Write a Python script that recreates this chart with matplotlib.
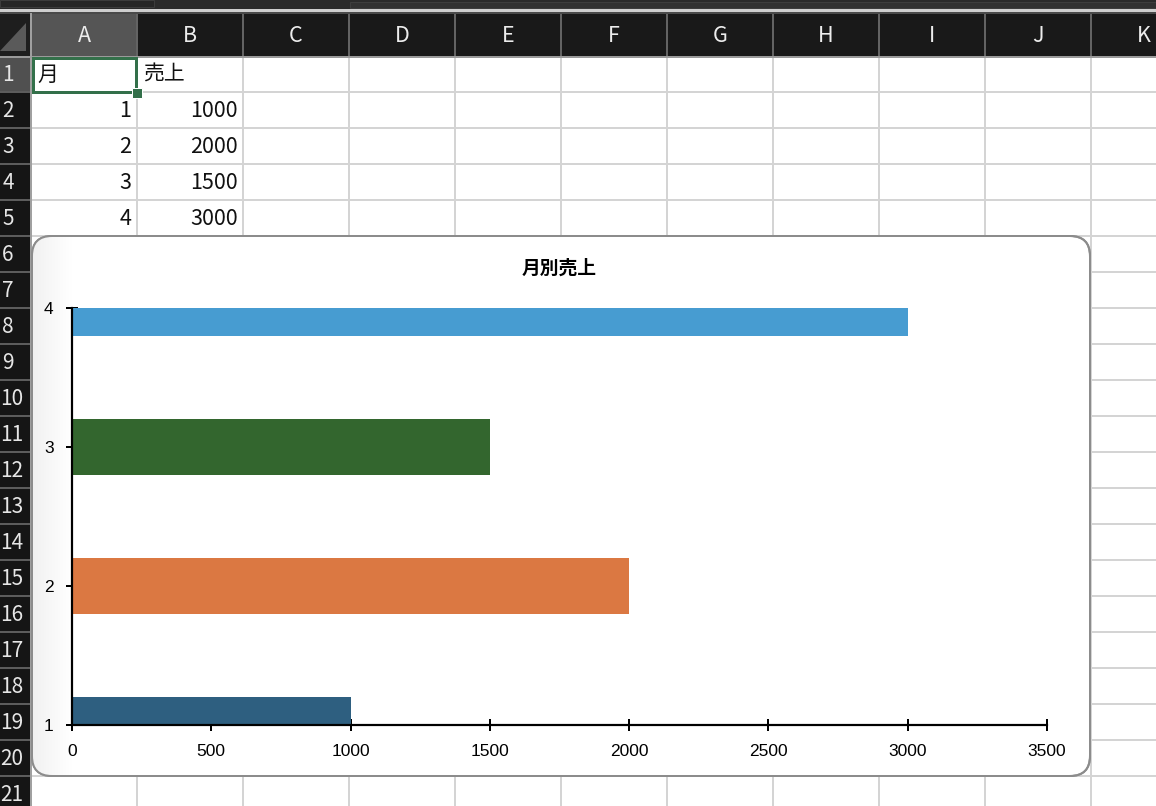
import matplotlib
matplotlib.use("Agg")
import matplotlib.pyplot as plt
import numpy as np
from matplotlib.patches import Rectangle, FancyBboxPatch, Polygon

# ---- data ----
months = [1, 2, 3, 4]
sales = [1000, 2000, 1500, 3000]
bar_colors = ["#2E5F80", "#DB7842", "#33662E", "#479CD1"]
header_month = "月"
header_sales = "売上"
chart_title = "月別売上"
col_letters = ["A", "B", "C", "D", "E", "F", "G", "H", "I", "J", "K"]
row_numbers = list(range(1, 22))
x_ticks = [0, 500, 1000, 1500, 2000, 2500, 3000, 3500]
y_ticks = [1, 2, 3, 4]

W, H = 1156, 806
DPI = 100
PX = 72.0 / DPI  # points per pixel

SHEET_FONT = ["Noto Sans CJK JP", "DejaVu Sans"]
CHART_FONT = ["Liberation Sans", "DejaVu Sans"]

fig = plt.figure(figsize=(W / DPI, H / DPI), dpi=DPI, facecolor="white")
bg = fig.add_axes([0, 0, 1, 1])
bg.set_xlim(0, W)
bg.set_ylim(H, 0)
bg.axis("off")

COL0 = 31
COLW = 106
ROW0 = 56
ROWH = 36
HEAD_TOP = 14

grid_c = "#d4d4d4"
# grid lines
for k in range(1, len(col_letters)):
    x = COL0 + COLW * k
    bg.plot([x, x], [ROW0, H], color=grid_c, lw=2 * PX, zorder=1)
for k in range(1, len(row_numbers) + 1):
    y = ROW0 + ROWH * k
    bg.plot([COL0, W], [y, y], color=grid_c, lw=2 * PX, zorder=1)

# row header
bg.add_patch(Rectangle((0, ROW0), 30, H - ROW0, facecolor="#151515", edgecolor="none", zorder=2))
bg.add_patch(Rectangle((0, ROW0), 30, ROWH, facecolor="#505050", edgecolor="none", zorder=2))
for k in range(1, len(row_numbers) + 1):
    y = ROW0 + ROWH * k
    bg.plot([0, 30], [y, y], color="#5c5c5c", lw=2 * PX, zorder=3)
bg.plot([30.5, 30.5], [ROW0, H], color="#a0a0a0", lw=2 * PX, zorder=3)
for i, r in enumerate(row_numbers):
    yc = ROW0 + ROWH * i + ROWH / 2 + 1
    xc = 8 if r < 10 else 12
    bg.text(xc, yc, str(r), ha="center", va="center", color="#e6e6e6",
            fontsize=15, family=SHEET_FONT, zorder=4)

# column header
bg.add_patch(Rectangle((0, HEAD_TOP), W, ROW0 - HEAD_TOP, facecolor="#191919", edgecolor="none", zorder=2))
bg.add_patch(Rectangle((COL0 + 1, HEAD_TOP), COLW - 1, ROW0 - HEAD_TOP, facecolor="#555555", edgecolor="none", zorder=2))
for k in range(1, len(col_letters)):
    x = COL0 + COLW * k
    bg.plot([x, x], [HEAD_TOP, ROW0], color="#636363", lw=2 * PX, zorder=3)
bg.plot([0, W], [ROW0 + 0.5, ROW0 + 0.5], color="#9a9a9a", lw=2 * PX, zorder=3)
for k, c in enumerate(col_letters):
    xc = COL0 + COLW * k + COLW / 2
    bg.text(xc, 36, c, ha="center", va="center", color="#ececec",
            fontsize=15.5, family=SHEET_FONT, zorder=4)

# corner cell
bg.add_patch(Rectangle((0, HEAD_TOP), 30, ROW0 - HEAD_TOP, facecolor="#1e1e1e", edgecolor="none", zorder=3))
bg.add_patch(Polygon([[26, 23], [26, 51], [0, 51]], closed=True, facecolor="#5a5a5a", edgecolor="none", zorder=4))
bg.plot([30.5, 30.5], [HEAD_TOP, ROW0], color="#a0a0a0", lw=2 * PX, zorder=4)

# top bar
bg.add_patch(Rectangle((0, 0), W, 9, facecolor="#2b2b2b", edgecolor="none", zorder=2))
bg.add_patch(Rectangle((0, 0), 154, 7, facecolor="#262626", edgecolor="#3c3c3c", lw=1 * PX, zorder=3))
bg.add_patch(Rectangle((350, 2), W - 350, 6, facecolor="#323232", edgecolor="#3e3e3e", lw=1 * PX, zorder=3))
bg.add_patch(Rectangle((0, 9), W, 3, facecolor="#cfcfcf", edgecolor="none", zorder=3))
bg.add_patch(Rectangle((0, 12), W, 2, facecolor="#4a4a4a", edgecolor="none", zorder=3))

# cell contents
bg.text(COL0 + 6, ROW0 + ROWH / 2 + 1, header_month, ha="left", va="center",
        fontsize=15, family=SHEET_FONT, color="#111111", zorder=5)
bg.text(COL0 + COLW + 6, ROW0 + ROWH / 2 + 1, header_sales, ha="left", va="center",
        fontsize=15, family=SHEET_FONT, color="#111111", zorder=5)
for i, (m, s) in enumerate(zip(months, sales)):
    yc = ROW0 + ROWH * (i + 1) + ROWH / 2 + 1
    bg.text(COL0 + COLW - 6, yc, str(m), ha="right", va="center",
            fontsize=15.5, family=SHEET_FONT, color="#111111", zorder=5)
    bg.text(COL0 + 2 * COLW - 5, yc, str(s), ha="right", va="center",
            fontsize=15.5, family=SHEET_FONT, color="#111111", zorder=5)

# selection box on A1
sel_c = "#33704a"
bg.add_patch(Rectangle((COL0 + 1.5, ROW0 + 1.5), COLW - 3, ROWH - 1.5, facecolor="none",
                       edgecolor=sel_c, lw=3 * PX, zorder=6))
bg.add_patch(Rectangle((132, 88), 10, 10, facecolor=sel_c, edgecolor="white", lw=1 * PX, zorder=7))

# chart panel
cx0, cy0, cx1, cy1 = 32, 236, 1090, 776
panel = FancyBboxPatch((cx0, cy0), cx1 - cx0, cy1 - cy0,
                       boxstyle="round,pad=0,rounding_size=20",
                       facecolor="white", edgecolor="#8c8c8c", lw=2 * PX, zorder=8)
bg.add_patch(panel)
grad = np.linspace(0.945, 1.0, 64).reshape(1, -1)
img = bg.imshow(np.dstack([grad, grad, grad]), extent=(cx0, cx0 + 40, cy1, cy0),
                aspect="auto", zorder=8.5, interpolation="bilinear")
img.set_clip_path(panel)
bg.add_patch(FancyBboxPatch((cx0, cy0), cx1 - cx0, cy1 - cy0,
                            boxstyle="round,pad=0,rounding_size=20",
                            facecolor="none", edgecolor="#8c8c8c", lw=2 * PX, zorder=9))
bg.set_xlim(0, W)
bg.set_ylim(H, 0)

# chart axes
ax_l, ax_r, ax_t, ax_b = 72, 1047, 308, 725
ax = fig.add_axes([ax_l / W, 1 - ax_b / H, (ax_r - ax_l) / W, (ax_b - ax_t) / H])
ax.set_zorder(10)
ax.patch.set_alpha(0)
ax.barh(months, sales, height=0.4, color=bar_colors, zorder=2)
ax.set_xlim(0, 3500)
ax.set_ylim(1, 4)
ax.set_xticks(x_ticks)
ax.set_yticks(y_ticks)
for sp in ["top", "right"]:
    ax.spines[sp].set_visible(False)
for sp in ["left", "bottom"]:
    ax.spines[sp].set_linewidth(2.2 * PX)
    ax.spines[sp].set_color("black")
    ax.spines[sp].set_capstyle("projecting")
ax.tick_params(axis="both", direction="inout", length=12 * PX, width=2 * PX,
               color="black", labelsize=12.5)
ax.tick_params(axis="x", pad=9)
ax.tick_params(axis="y", pad=9)
for lab in ax.get_xticklabels() + ax.get_yticklabels():
    lab.set_family(CHART_FONT)
ax.set_title(chart_title, fontsize=13.5, fontweight="bold", family=SHEET_FONT, pad=25)

fig.savefig("out.png", dpi=DPI, facecolor="white")
